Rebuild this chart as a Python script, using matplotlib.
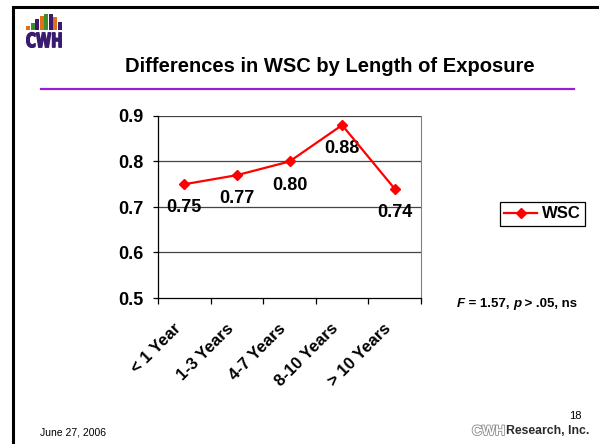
import numpy as np
import matplotlib
matplotlib.use('Agg')
import matplotlib.pyplot as plt
import matplotlib.patheffects as pe
import matplotlib.transforms as mtrans
from matplotlib.lines import Line2D
from matplotlib.patches import Rectangle, PathPatch
from matplotlib.text import Annotation
from matplotlib.textpath import TextPath
from matplotlib.font_manager import FontProperties

plt.rcParams['font.family'] = ['Liberation Sans', 'DejaVu Sans']

# ── data ─────────────────────────────────────────────────────────────────────
categories = ['< 1 Year', '1-3 Years', '4-7 Years', '8-10 Years', '> 10 Years']
wsc = [0.75, 0.77, 0.80, 0.88, 0.74]
value_labels = ['0.75', '0.77', '0.80', '0.88', '0.74']
y_ticks = [0.5, 0.6, 0.7, 0.8, 0.9]

title = 'Differences in WSC by Length of Exposure'
footer_date = 'June 27, 2006'
page_no = '18'

W, H = 599, 444
fig = plt.figure(figsize=(W / 100, H / 100), dpi=100)
fig.patch.set_facecolor('white')

def fx(px):
    return px / W

def fy(py):
    return 1 - py / H

# slide frame (top + left edges only visible)
fig.add_artist(Line2D([fx(13), 1], [fy(7), fy(7)], color='black', lw=2.2))
fig.add_artist(Line2D([fx(13), fx(13)], [fy(7), 0], color='black', lw=2.2))

# title + purple rule
fig.text(fx(330), fy(66), title, ha='center', va='center',
         fontsize=14.5, fontweight='bold')
fig.add_artist(Line2D([fx(41), fx(574)], [fy(89), fy(89)],
                      color='#9B1FD0', lw=1.6))

# logo: arch of coloured bars over block "CWH"
logo = fig.add_axes([fx(26), fy(48), fx(62) - fx(26), fy(14) - fy(48)])
logo.set_xlim(0, 36)
logo.set_ylim(0, 34)
logo.axis('off')
bar_cols = ['#E0701C', '#3E8E2A', '#3A1A6E', '#E0701C', '#3E8E2A',
            '#3A1A6E', '#E0701C', '#3A1A6E']
bar_h = [4, 7, 11, 14, 16, 16, 13, 8]
for i, (c, h) in enumerate(zip(bar_cols, bar_h)):
    logo.add_patch(Rectangle((0.2 + i * 4.5, 18), 3.9, h, color=c, lw=0))
tp = TextPath((0, 0), 'CWH', size=1,
              prop=FontProperties(family='DejaVu Sans', weight='bold'))
ext = tp.get_extents()
to_box = (mtrans.Affine2D().translate(-ext.x0, -ext.y0)
          .scale(35 / ext.width, 15 / ext.height).translate(0.5, 0.5))
logo.add_patch(PathPatch(to_box.transform_path(tp), facecolor='#3A1A6E',
                         edgecolor='#3A1A6E', lw=1.0))

# ── chart ────────────────────────────────────────────────────────────────────
ax = fig.add_axes([fx(158), fy(298), fx(421) - fx(158), fy(116) - fy(298)])
x = np.arange(len(categories))
ax.plot(x, wsc, color='#FF0000', lw=1.6, marker='D', markersize=5.5,
        markerfacecolor='#FF0000', markeredgecolor='#FF0000', label='WSC',
        zorder=5)
for xi, yi, lab in zip(x, wsc, value_labels):
    ax.annotate(lab, (xi, yi), textcoords='offset points', xytext=(0, -17),
                ha='center', va='center', fontsize=13, fontweight='bold')

ax.set_xlim(-0.5, len(categories) - 0.5)
ax.set_ylim(0.5, 0.9)
ax.set_yticks(y_ticks)
ax.set_yticklabels([f'{v:.1f}' for v in y_ticks], fontsize=13,
                   fontweight='bold')
for v in y_ticks[1:]:
    ax.axhline(v, color='#444444', lw=0.9, zorder=1)

ax.set_xticks(x)
ax.set_xticklabels(categories, rotation=45, ha='right', va='center',
                   rotation_mode='anchor', fontsize=12, fontweight='bold')
ax.tick_params(axis='x', which='major', length=0, pad=19)
shift = mtrans.ScaledTranslation(-6 / 100, -2 / 100, fig.dpi_scale_trans)
for lab in ax.get_xticklabels():
    lab.set_transform(lab.get_transform() + shift)
ax.set_xticks(np.arange(-0.5, len(categories)), minor=True)
ax.tick_params(axis='x', which='minor', length=4, width=0.9, direction='out')
ax.tick_params(axis='y', length=3.6, width=0.9, direction='out', pad=7)

ax.spines['top'].set_visible(False)
ax.spines['right'].set_color('#808080')
ax.spines['left'].set_linewidth(0.9)
ax.spines['bottom'].set_linewidth(0.9)

leg = fig.legend(loc='center', bbox_to_anchor=(fx(542.5), fy(214)),
                 fancybox=False, edgecolor='black', framealpha=1,
                 prop={'weight': 'bold', 'size': 12}, handlelength=2.0,
                 handletextpad=0.3, borderpad=0.25, borderaxespad=0)
leg.get_frame().set_linewidth(0.9)

# F statistic, italic letters, pieces chained end to end
prev = fig.text(fx(457), fy(304), 'F', fontsize=9.5, fontweight='bold',
                style='italic', va='center')
for s, it in [(' = 1.57, ', False), ('p', True), (' > .05, ns', False)]:
    prev = fig.add_artist(Annotation(
        s, xy=(1, 0.5), xycoords=prev, va='center', ha='left',
        fontsize=9.5, fontweight='bold', style='italic' if it else 'normal'))

# footer
fig.text(fx(40), fy(432), footer_date, fontsize=7.5, va='center')
fig.text(fx(575), fy(416), page_no, fontsize=8, ha='center', va='center')
fig.text(fx(472), fy(431), 'CWH', fontsize=10, fontweight='bold',
         color='white', va='center',
         path_effects=[pe.Stroke(linewidth=1.2, foreground='#8A8A8A'),
                       pe.Normal()])
fig.text(fx(589), fy(431), 'Research, Inc.', fontsize=8.8,
         fontweight='bold', color='#2A2A2A', ha='right', va='center')

fig.savefig('out.png', dpi=100)
